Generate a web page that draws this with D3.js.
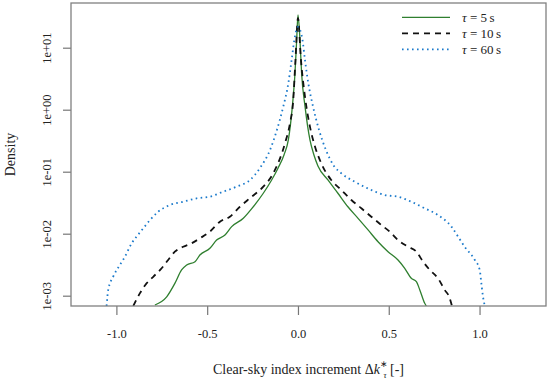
<!DOCTYPE html>
<html>
<head>
<meta charset="utf-8">
<script src="https://cdn.jsdelivr.net/npm/d3@7"></script>
<style>
  body { margin: 0; background: #fff; }
  #graf { width: 550px; height: 382px; }
  text { font-family: "Liberation Serif", "Times New Roman", serif; fill: #222; }
</style>
</head>
<body>
<div id="graf"></div>
<script>
// I. Datos
x_5s = [-0.788, -0.723, -0.678, -0.641, -0.613, -0.567, -0.540, -0.485, -0.448, -0.402, -0.365,
        -0.301, -0.246, -0.191, -0.145, -0.110, -0.077, -0.053, -0.031, -0.0165, -0.0072, 0,
        0.011, 0.020, 0.039, 0.066, 0.088, 0.110, 0.165, 0.220, 0.275, 0.331, 0.386, 0.441,
        0.496, 0.551, 0.588, 0.624, 0.652, 0.671, 0.698, 0.707]
dens_5s = [7.08e-4, 9.6e-4, 1.58e-3, 2.6e-3, 3.13e-3, 3.53e-3, 4.53e-3, 5.82e-3, 7.91e-3, 9.52e-3, 0.0130,
           0.0177, 0.0272, 0.0449, 0.0735, 0.114, 0.186, 0.325, 1.12, 3.86, 13.3, 33.7,
           13.3, 3.86, 1.12, 0.325, 0.186, 0.124, 0.0735, 0.0449, 0.0272, 0.0177, 0.0115, 7.43e-3,
           5.13e-3, 3.77e-3, 2.77e-3, 1.91e-3, 1.68e-3, 1.24e-3, 7.54e-4, 6.82e-4]

x_10s = [-0.907, -0.871, -0.834, -0.797, -0.751, -0.715, -0.678, -0.632, -0.586, -0.540, -0.485,
         -0.430, -0.375, -0.320, -0.255, -0.191, -0.136, -0.0716, -0.044, -0.026, -0.0138, 0,
         0.0165, 0.0386, 0.066, 0.094, 0.128, 0.183, 0.239, 0.294, 0.349, 0.404, 0.459, 0.505,
         0.551, 0.606, 0.652, 0.689, 0.726, 0.771, 0.808, 0.836, 0.848]
dens_10s = [6.82e-4, 1.09e-3, 1.58e-3, 2.02e-3, 2.77e-3, 3.77e-3, 5.13e-3, 6.17e-3, 7.0e-3, 8.43e-3, 0.0108,
            0.0156, 0.0188, 0.0272, 0.0395, 0.0573, 0.0942, 0.287, 0.604, 1.43, 6.33, 30.1,
            6.33, 1.62, 0.532, 0.253, 0.137, 0.0735, 0.0507, 0.0350, 0.0257, 0.0188, 0.0138, 0.0108,
            7.91e-3, 6.17e-3, 5.13e-3, 3.53e-3, 2.60e-3, 1.91e-3, 1.24e-3, 9.08e-4, 6.82e-4]

x_60s = [-1.054, -1.045, -1.018, -0.981, -0.953, -0.916, -0.889, -0.852, -0.815, -0.770, -0.705,
         -0.632, -0.558, -0.485, -0.412, -0.338, -0.264, -0.209, -0.154, -0.116, -0.081, -0.053,
         -0.035, -0.020, 0, 0.025, 0.0386, 0.057, 0.083, 0.116, 0.154, 0.198, 0.239, 0.312,
         0.404, 0.478, 0.551, 0.624, 0.698, 0.771, 0.845, 0.882, 0.918, 0.974, 1.001, 1.010,
         1.019, 1.029]
dens_60s = [6.82e-4, 1.24e-3, 2.02e-3, 3.13e-3, 4.26e-3, 7.0e-3, 8.95e-3, 0.0122, 0.0166, 0.0226, 0.0290,
            0.0328, 0.0372, 0.0395, 0.0475, 0.0573, 0.0735, 0.115, 0.224, 0.471, 1.12, 2.67,
            6.33, 13.3, 21.6, 13.3, 6.33, 2.67, 1.12, 0.471, 0.224, 0.124, 0.0942, 0.069,
            0.0507, 0.0421, 0.0395, 0.0328, 0.0257, 0.0200, 0.0130, 8.95e-3, 6.17e-3, 3.77e-3, 2.60e-3, 1.58e-3,
            9.64e-4, 6.82e-4]

nombres = ['5', '10', '60']
xTicks = [-1.0, -0.5, 0.0, 0.5, 1.0]
xTickLabels = ['-1.0', '-0.5', '0.0', '0.5', '1.0']
yTicks = [1e-3, 1e-2, 1e-1, 1e0, 1e1]
yTickLabels = ['1e-03', '1e-02', '1e-01', '1e+00', '1e+01']

// II. Configuración
ancho_total = 550
alto_total = 382
margins = { top: 3, left: 71, right: 4, bottom: 76 }
ancho = ancho_total - margins.left - margins.right
alto = alto_total - margins.top - margins.bottom

svg = d3.select('#graf').append('svg')
        .attr('width', ancho_total)
        .attr('height', alto_total)

g = svg.append('g')
       .attr('transform', `translate(${ margins.left }, ${ margins.top })`)

x = d3.scaleLinear()
      .domain([-1.25, 1.366])
      .range([0, ancho])

y = d3.scaleLog()
      .domain([6.82e-4, 52.6])
      .range([alto, 0])

estilos = [
  { color: '#2f7f2f', dash: null, width: 1.3 },
  { color: '#111', dash: '6,5', width: 1.8 },
  { color: '#1b7acb', dash: '1.6,3.4', width: 1.8 }
]

series = [
  x_5s.map((d, i) => ({ x: d, y: dens_5s[i] })),
  x_10s.map((d, i) => ({ x: d, y: dens_10s[i] })),
  x_60s.map((d, i) => ({ x: d, y: dens_60s[i] }))
]

// III. Ejes
g.append('clipPath').attr('id', 'clip')
  .append('rect').attr('width', ancho).attr('height', alto)

xAxisGroup = g.append('g')
  .attr('transform', `translate(0, ${ alto })`)
  .call(d3.axisBottom(x).tickValues(xTicks).tickSize(9)
          .tickFormat((d, i) => xTickLabels[i]))
xAxisGroup.select('.domain').remove()
xAxisGroup.selectAll('line').attr('stroke', '#777').attr('stroke-width', 1.2)
xAxisGroup.selectAll('text')
  .attr('y', 32).attr('dy', 0)
  .style('font-size', '12.5px')

yAxisGroup = g.append('g')
  .call(d3.axisLeft(y).tickValues(yTicks).tickSize(8)
          .tickFormat((d, i) => yTickLabels[i]))
yAxisGroup.select('.domain').remove()
yAxisGroup.selectAll('line').attr('stroke', '#777').attr('stroke-width', 1.2)
yAxisGroup.selectAll('text')
  .attr('x', 0).attr('dy', 0)
  .attr('text-anchor', 'middle')
  .attr('transform', 'translate(-20.5, 0) rotate(-90)')
  .style('font-size', '12.5px')

// IV. Curvas
linea = d3.line()
  .x(d => x(d.x))
  .y(d => y(d.y))
  .curve(d3.curveMonotoneX)

g.append('g').attr('clip-path', 'url(#clip)')
  .selectAll('path')
  .data(series)
  .enter()
  .append('path')
    .attr('d', linea)
    .attr('fill', 'none')
    .attr('stroke', (d, i) => estilos[i].color)
    .attr('stroke-width', (d, i) => estilos[i].width)
    .attr('stroke-dasharray', (d, i) => estilos[i].dash)

// caja
g.append('rect')
  .attr('width', ancho)
  .attr('height', alto)
  .attr('fill', 'none')
  .attr('stroke', '#808080')
  .attr('stroke-width', 1.3)

// V. Títulos
svg.append('text')
  .attr('transform', `translate(15, ${ margins.top + alto / 2 }) rotate(-90)`)
  .attr('text-anchor', 'middle')
  .style('font-size', '14px')
  .text('Density')

xlab = svg.append('text')
  .attr('x', margins.left + ancho / 2)
  .attr('y', 373.5)
  .attr('text-anchor', 'middle')
  .style('font-size', '14px')
xlab.append('tspan').text('Clear-sky index increment Δ')
xlab.append('tspan').style('font-style', 'italic').text('k')
xlab.append('tspan').attr('dy', -7).style('font-size', '8.5px').text('∗')
xlab.append('tspan').attr('dx', -4.5).attr('dy', 11).style('font-size', '8.5px').style('font-style', 'italic').text('τ')
xlab.append('tspan').attr('dy', -4).text(' [-]')

// VI. Leyenda
leyenda = svg.append('g')
filas = leyenda.selectAll('g')
  .data(nombres)
  .enter()
  .append('g')
    .attr('transform', (d, i) => `translate(0, ${ 17.3 + i * 16 })`)

filas.append('line')
  .attr('x1', 402).attr('x2', 450)
  .attr('stroke', (d, i) => estilos[i].color)
  .attr('stroke-width', (d, i) => estilos[i].width)
  .attr('stroke-dasharray', (d, i) => estilos[i].dash)

tx = filas.append('text')
  .attr('x', 462).attr('y', 4.5)
  .style('font-size', '13px')
tx.append('tspan').style('font-style', 'italic').text('τ')
tx.append('tspan').text(d => ` = ${ d }\u2009s`)
</script>
</body>
</html>
